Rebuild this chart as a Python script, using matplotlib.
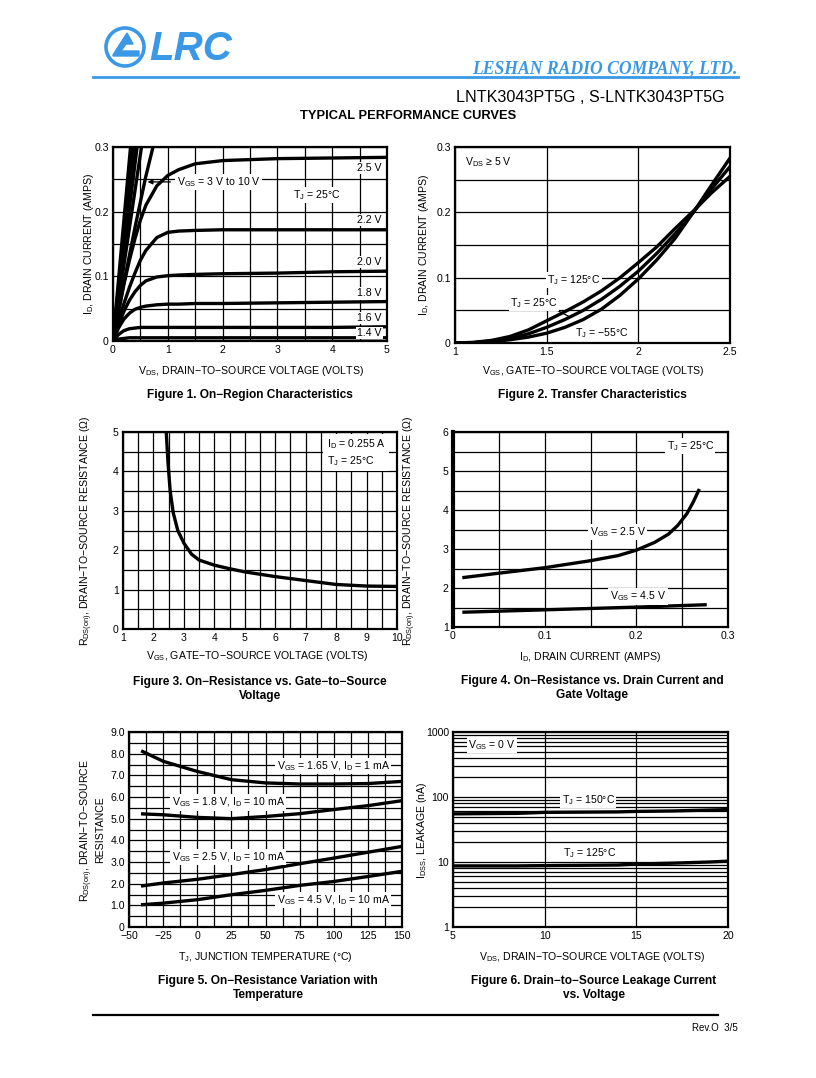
import matplotlib
matplotlib.use('Agg')
import matplotlib.pyplot as plt
import numpy as np
from matplotlib.patches import Circle, Polygon

plt.rcParams['font.family'] = ['Liberation Sans', 'DejaVu Sans']
plt.rcParams['mathtext.default'] = 'regular'
plt.rcParams['axes.unicode_minus'] = True

# ---------------- data ----------------
# Figure 1: On-region characteristics (VDS vs ID for VGS)
f1_vds = [0, 0.1, 0.2, 0.3, 0.4, 0.5, 0.6, 0.8, 1.0, 1.2, 1.5, 2.0, 3.0, 4.0, 5.0]
f1_id_14 = [0, 0.003, 0.004, 0.005, 0.005, 0.005, 0.005, 0.005, 0.005, 0.005, 0.005, 0.005, 0.005, 0.005, 0.005]
f1_id_16 = [0, 0.010, 0.016, 0.019, 0.020, 0.021, 0.021, 0.021, 0.021, 0.021, 0.021, 0.021, 0.021, 0.021, 0.022]
f1_id_18 = [0, 0.020, 0.034, 0.043, 0.049, 0.052, 0.054, 0.056, 0.057, 0.057, 0.058, 0.058, 0.059, 0.060, 0.061]
f1_id_20 = [0, 0.025, 0.046, 0.063, 0.076, 0.086, 0.093, 0.099, 0.101, 0.102, 0.103, 0.104, 0.105, 0.107, 0.108]
f1_id_22 = [0, 0.030, 0.058, 0.083, 0.105, 0.125, 0.140, 0.160, 0.168, 0.170, 0.171, 0.172, 0.172, 0.172, 0.172]
f1_id_25 = [0, 0.045, 0.088, 0.125, 0.158, 0.187, 0.210, 0.240, 0.256, 0.265, 0.274, 0.279, 0.282, 0.283, 0.284]
f1_curves = [f1_id_14, f1_id_16, f1_id_18, f1_id_20, f1_id_22, f1_id_25]
f1_labels = ['1.4 V', '1.6 V', '1.8 V', '2.0 V', '2.2 V', '2.5 V']
f1_label_y = [0.0124, 0.0356, 0.074, 0.122, 0.187, 0.2675]
# steep curves for VGS = 3 V to 10 V
f1_hi_vds = [[0, 0.2, 0.4, 0.6, 0.73], [0, 0.2, 0.4, 0.52], [0, 0.2, 0.4, 0.44],
             [0, 0.2, 0.40], [0, 0.2, 0.36], [0, 0.2, 0.32]]
f1_hi_id = [[0, 0.090, 0.175, 0.255, 0.300], [0, 0.118, 0.232, 0.300], [0, 0.138, 0.273, 0.300],
            [0, 0.150, 0.300], [0, 0.167, 0.300], [0, 0.188, 0.300]]

# Figure 2: transfer characteristics
f2_vgs = [1.0, 1.1, 1.2, 1.3, 1.4, 1.5, 1.6, 1.7, 1.8, 1.9, 2.0, 2.1, 2.2, 2.3, 2.4, 2.5]
f2_id_125 = [0, 0.001, 0.004, 0.010, 0.020, 0.034, 0.048, 0.063, 0.080, 0.100, 0.123, 0.147, 0.175, 0.202, 0.230, 0.255]
f2_id_25 = [0, 0.0005, 0.003, 0.007, 0.014, 0.024, 0.036, 0.050, 0.067, 0.087, 0.110, 0.137, 0.167, 0.200, 0.236, 0.270]
f2_id_m55 = [0, 0.0003, 0.002, 0.005, 0.009, 0.015, 0.024, 0.036, 0.052, 0.073, 0.098, 0.127, 0.160, 0.200, 0.242, 0.283]

# Figure 3: RDS(on) vs VGS
f3_vgs = [2.42, 2.48, 2.55, 2.65, 2.8, 3.0, 3.25, 3.5, 4.0, 4.5, 5.0, 6.0, 7.0, 8.0, 9.0, 10.0]
f3_rds = [5.0, 4.2, 3.5, 2.95, 2.5, 2.18, 1.9, 1.75, 1.62, 1.53, 1.45, 1.33, 1.23, 1.13, 1.09, 1.08]

# Figure 4: RDS(on) vs ID
f4_id_25 = [0.012, 0.05, 0.10, 0.15, 0.18, 0.20, 0.22, 0.235, 0.245, 0.255, 0.262, 0.268]
f4_rds_25 = [2.27, 2.38, 2.52, 2.70, 2.83, 2.97, 3.17, 3.38, 3.60, 3.90, 4.20, 4.50]
f4_id_45 = [0.012, 0.10, 0.20, 0.275]
f4_rds_45 = [1.38, 1.44, 1.51, 1.57]

# Figure 5: RDS(on) vs temperature
f5_tj = [-40, -25, 0, 25, 50, 75, 100, 125, 150]
f5_r_165 = [8.10, 7.65, 7.18, 6.80, 6.65, 6.60, 6.60, 6.62, 6.72]
f5_r_18 = [5.22, 5.18, 5.06, 5.00, 5.10, 5.23, 5.42, 5.60, 5.83]
f5_r_25 = [1.90, 2.03, 2.20, 2.42, 2.65, 2.92, 3.18, 3.45, 3.72]
f5_r_45 = [1.03, 1.10, 1.26, 1.49, 1.69, 1.92, 2.10, 2.33, 2.57]

# Figure 6: leakage vs VDS
f6_vds = [5, 8.5, 10, 14, 15, 17, 19, 20]
f6_i_150 = [55, 56, 58, 59, 60, 61, 63, 64]
f6_i_125 = [8.7, 8.7, 8.8, 9.0, 9.3, 9.6, 10.0, 10.3]

# ---------------- figure ----------------
W, H = 816, 1078
fig = plt.figure(figsize=(W / 100, H / 100), dpi=100)
fig.patch.set_facecolor('white')

BLUE = '#3a98e6'
LW = 2.4
TICK_FS = 7.6
LAB_FS = 7.6
CAP_FS = 8.6


def axes_px(l, t, r, b):
    return fig.add_axes([l / W, 1 - b / H, (r - l) / W, (b - t) / H])


def ftext(x, y, s, **kw):
    return fig.text(x / W, 1 - y / H, s, **kw)


def style(ax):
    for sp in ax.spines.values():
        sp.set_linewidth(1.6)
        sp.set_color('black')
    ax.tick_params(which='both', length=0, labelsize=TICK_FS, pad=3)
    ax.grid(which='both', color='black', linewidth=0.9)
    ax.set_axisbelow(True)


WB = dict(facecolor='white', edgecolor='none', pad=1.0)

# overlay for header / footer
ov = fig.add_axes([0, 0, 1, 1])
ov.set_xlim(0, W)
ov.set_ylim(H, 0)
ov.axis('off')
ov.add_patch(Circle((125, 47), 19, fill=False, edgecolor=BLUE, linewidth=2.6))
ov.add_patch(Polygon([(113, 55), (127, 33), (133, 44), (126, 44), (121, 51), (139, 51),
                      (139, 56), (113, 56)], closed=True, facecolor=BLUE, edgecolor=BLUE))
ov.text(149, 60, 'LRC', color=BLUE, fontsize=29, fontweight='bold', fontstyle='italic',
        va='baseline', ha='left')
ov.text(738, 73, 'LESHAN RADIO COMPANY, LTD.', color=BLUE, fontsize=12.7, fontweight='bold',
        fontstyle='italic', family=['Liberation Serif', 'DejaVu Serif'], ha='right', va='baseline')
ov.plot([93, 738], [77, 77], color=BLUE, linewidth=2.0)
ov.text(725, 102, 'LNTK3043PT5G , S-LNTK3043PT5G', fontsize=11.6, ha='right', va='baseline')
ov.text(408, 119, 'TYPICAL PERFORMANCE CURVES', fontsize=9.3, fontweight='bold', ha='center', va='baseline')
ov.plot([93, 718], [1015, 1015], color='black', linewidth=1.6)
ov.text(738, 1031, 'Rev.O  3/5', fontsize=7, ha='right', va='baseline')

# ---------- Figure 1 ----------
ax1 = axes_px(113, 147, 387, 341)
style(ax1)
for ids in f1_curves:
    ax1.plot(f1_vds, ids, color='black', linewidth=LW, solid_capstyle='butt')
for xs, ys in zip(f1_hi_vds, f1_hi_id):
    ax1.plot(xs, ys, color='black', linewidth=LW)
ax1.set_xlim(0, 5)
ax1.set_ylim(0, 0.3)
ax1.set_xticks([0, 1, 2, 3, 4, 5])
ax1.set_xticks(np.arange(0, 5.01, 0.5), minor=True)
ax1.set_yticks([0, 0.1, 0.2, 0.3])
ax1.set_yticks(np.arange(0, 0.301, 0.05), minor=True)
ax1.set_yticklabels(['0', '0.1', '0.2', '0.3'])
for lab, yy in zip(f1_labels, f1_label_y):
    ax1.text(4.9, yy, lab, fontsize=7.6, ha='right', va='center', bbox=WB)
ax1.text(1.16, 0.246, 'V$_{GS}$ = 3 V to 10 V', fontsize=7.6, ha='left', va='center', bbox=WB)
ax1.annotate('', xy=(0.58, 0.246), xytext=(1.1, 0.246),
             arrowprops=dict(arrowstyle='-|>', color='black', lw=0.9, mutation_scale=7))
ax1.text(3.28, 0.226, 'T$_J$ = 25°C', fontsize=7.6, ha='left', va='center', bbox=WB)
ftext(251, 371, 'V$_{DS}$, DRAIN−TO−SOURCE VOLTAGE (VOLTS)', fontsize=LAB_FS, ha='center', va='center')
ftext(89, 244, 'I$_D$, DRAIN CURRENT (AMPS)', fontsize=LAB_FS, ha='center', va='center', rotation=90)
ftext(250, 395, 'Figure 1. On−Region Characteristics', fontsize=CAP_FS, fontweight='bold', ha='center', va='center')

# ---------- Figure 2 ----------
ax2 = axes_px(455, 147, 730, 343)
style(ax2)
for ids in (f2_id_125, f2_id_25, f2_id_m55):
    ax2.plot(f2_vgs, ids, color='black', linewidth=LW)
ax2.set_xlim(1, 2.5)
ax2.set_ylim(0, 0.3)
ax2.set_xticks([1, 1.5, 2, 2.5])
ax2.set_xticklabels(['1', '1.5', '2', '2.5'])
ax2.set_yticks([0, 0.1, 0.2, 0.3])
ax2.set_yticks(np.arange(0, 0.301, 0.05), minor=True)
ax2.set_yticklabels(['0', '0.1', '0.2', '0.3'])
ax2.text(1.055, 0.2775, 'V$_{DS}$ ≥ 5 V', fontsize=7.6, ha='left', va='center')
ax2.text(1.502, 0.0964, 'T$_J$ = 125°C', fontsize=7.6, ha='left', va='center', bbox=WB)
ax2.text(1.30, 0.061, 'T$_J$ = 25°C', fontsize=7.6, ha='left', va='center', bbox=WB)
ax2.plot([1.513, 1.617], [0.0566, 0.0413], color='black', linewidth=0.9)
ax2.text(1.655, 0.0153, 'T$_J$ = −55°C', fontsize=7.6, ha='left', va='center', bbox=WB)
ftext(593, 371, 'V$_{GS}$, GATE−TO−SOURCE VOLTAGE (VOLTS)', fontsize=LAB_FS, ha='center', va='center')
ftext(424, 245, 'I$_D$, DRAIN CURRENT (AMPS)', fontsize=LAB_FS, ha='center', va='center', rotation=90)
ftext(592, 395, 'Figure 2. Transfer Characteristics', fontsize=CAP_FS, fontweight='bold', ha='center', va='center')

# ---------- Figure 3 ----------
ax3 = axes_px(123, 432, 397, 629)
style(ax3)
ax3.plot(f3_vgs, f3_rds, color='black', linewidth=LW)
ax3.set_xlim(1, 10)
ax3.set_ylim(0, 5)
ax3.set_xticks(range(1, 11))
ax3.set_xticks(np.arange(1, 10.01, 0.5), minor=True)
ax3.set_yticks(range(0, 6))
ax3.set_yticks(np.arange(0, 5.01, 0.5), minor=True)
ax3.text(7.69, 4.87, 'I$_D$ = 0.255 A\nT$_J$ = 25°C', fontsize=7.6, ha='left', va='top',
         linespacing=1.3, bbox=dict(facecolor='white', edgecolor='none', pad=2.5))
ftext(257, 656, 'V$_{GS}$, GATE−TO−SOURCE VOLTAGE (VOLTS)', fontsize=LAB_FS, ha='center', va='center')
ftext(87, 531, 'R$_{DS(on)}$, DRAIN−TO−SOURCE RESISTANCE (Ω)', fontsize=LAB_FS, ha='center', va='center', rotation=90)
ftext(260, 689, 'Figure 3. On−Resistance vs. Gate−to−Source\nVoltage', fontsize=CAP_FS,
      fontweight='bold', ha='center', va='center', linespacing=1.2)

# ---------- Figure 4 ----------
ax4 = axes_px(453, 432, 728, 627)
style(ax4)
ax4.spines['left'].set_linewidth(3.0)
ax4.plot(f4_id_25, f4_rds_25, color='black', linewidth=LW)
ax4.plot(f4_id_45, f4_rds_45, color='black', linewidth=LW)
ax4.set_xlim(0, 0.3)
ax4.set_ylim(1, 6)
ax4.set_xticks([0, 0.1, 0.2, 0.3])
ax4.set_xticklabels(['0', '0.1', '0.2', '0.3'])
ax4.set_xticks(np.arange(0, 0.301, 0.05), minor=True)
ax4.set_yticks(range(1, 7))
ax4.set_yticks(np.arange(1, 6.01, 0.5), minor=True)
ax4.text(0.233, 5.64, 'T$_J$ = 25°C', fontsize=7.6, ha='left', va='center', bbox=WB)
ax4.text(0.149, 3.44, 'V$_{GS}$ = 2.5 V', fontsize=7.6, ha='left', va='center', bbox=WB)
ax4.text(0.171, 1.78, 'V$_{GS}$ = 4.5 V', fontsize=7.6, ha='left', va='center', bbox=WB)
ftext(590, 657, 'I$_D$, DRAIN CURRENT (AMPS)', fontsize=LAB_FS, ha='center', va='center')
ftext(410, 531, 'R$_{DS(on)}$, DRAIN−TO−SOURCE RESISTANCE (Ω)', fontsize=LAB_FS, ha='center', va='center', rotation=90)
ftext(592, 688, 'Figure 4. On−Resistance vs. Drain Current and\nGate Voltage', fontsize=CAP_FS,
      fontweight='bold', ha='center', va='center', linespacing=1.2)

# ---------- Figure 5 ----------
ax5 = axes_px(129, 732, 402, 927)
style(ax5)
for rr in (f5_r_165, f5_r_18, f5_r_25, f5_r_45):
    ax5.plot(f5_tj, rr, color='black', linewidth=LW)
ax5.set_xlim(-50, 150)
ax5.set_ylim(0, 9)
ax5.set_xticks(range(-50, 151, 25))
ax5.set_xticks(np.arange(-50, 150.01, 12.5), minor=True)
ax5.set_yticks(range(0, 10))
ax5.set_yticklabels(['0'] + ['%.1f' % v for v in range(1, 10)])
ax5.set_yticks(np.arange(0, 9.01, 0.5), minor=True)
ax5.text(58.2, 7.44, 'V$_{GS}$ = 1.65 V, I$_D$ = 1 mA', fontsize=7.6, ha='left', va='center', bbox=WB)
ax5.text(-18.7, 5.75, 'V$_{GS}$ = 1.8 V, I$_D$ = 10 mA', fontsize=7.6, ha='left', va='center', bbox=WB)
ax5.text(-18.7, 3.24, 'V$_{GS}$ = 2.5 V, I$_D$ = 10 mA', fontsize=7.6, ha='left', va='center', bbox=WB)
ax5.text(58.2, 1.25, 'V$_{GS}$ = 4.5 V, I$_D$ = 10 mA', fontsize=7.6, ha='left', va='center', bbox=WB)
ftext(265, 957, 'T$_J$, JUNCTION TEMPERATURE (°C)', fontsize=LAB_FS, ha='center', va='center')
ftext(92, 830, 'R$_{DS(on)}$, DRAIN−TO−SOURCE\nRESISTANCE', fontsize=LAB_FS, ha='center', va='center',
      rotation=90, linespacing=1.0)
ftext(268, 988, 'Figure 5. On−Resistance Variation with\nTemperature', fontsize=CAP_FS,
      fontweight='bold', ha='center', va='center', linespacing=1.2)

# ---------- Figure 6 ----------
ax6 = axes_px(453, 732, 728, 927)
for sp in ax6.spines.values():
    sp.set_linewidth(1.6)
ax6.set_yscale('log')
ax6.plot(f6_vds, f6_i_150, color='black', linewidth=LW)
ax6.plot(f6_vds, f6_i_125, color='black', linewidth=LW)
ax6.set_xlim(5, 20)
ax6.set_ylim(1, 1000)
ax6.set_xticks([5, 10, 15, 20])
ax6.set_yticks([1, 10, 100, 1000])
ax6.set_yticklabels(['1', '10', '100', '1000'])
ax6.yaxis.set_minor_locator(matplotlib.ticker.LogLocator(base=10, subs=np.arange(2, 10)))
ax6.yaxis.set_minor_formatter(matplotlib.ticker.NullFormatter())
ax6.tick_params(which='both', length=0, labelsize=TICK_FS, pad=3)
ax6.grid(axis='y', which='both', color='black', linewidth=0.9)
ax6.grid(axis='x', which='major', color='black', linewidth=0.9)
ax6.set_axisbelow(True)
ax6.text(5.82, 631, 'V$_{GS}$ = 0 V', fontsize=7.6, ha='left', va='center', bbox=WB)
ax6.text(10.93, 89.9, 'T$_J$ = 150°C', fontsize=7.6, ha='left', va='center', bbox=WB)
ax6.text(11.0, 13.7, 'T$_J$ = 125°C', fontsize=7.6, ha='left', va='center', bbox=WB)
ftext(592, 957, 'V$_{DS}$, DRAIN−TO−SOURCE VOLTAGE (VOLTS)', fontsize=LAB_FS, ha='center', va='center')
ftext(422, 830, 'I$_{DSS}$, LEAKAGE (nA)', fontsize=LAB_FS, ha='center', va='center', rotation=90)
ftext(594, 988, 'Figure 6. Drain−to−Source Leakage Current\nvs. Voltage', fontsize=CAP_FS,
      fontweight='bold', ha='center', va='center', linespacing=1.2)

fig.savefig('out.png', dpi=100, facecolor='white')
